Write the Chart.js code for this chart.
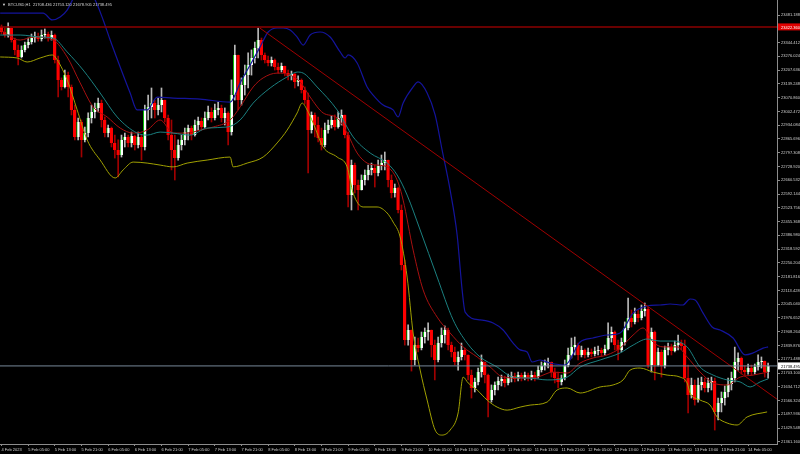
<!DOCTYPE html>
<html>
<head>
<meta charset="utf-8">
<script src="https://cdn.jsdelivr.net/npm/chart.js@4.4.0/dist/chart.umd.min.js"></script>
<style>
  html, body { margin: 0; padding: 0; background: #000; }
  canvas { display: block; }
</style>
</head>
<body>
<canvas id="chart" width="800" height="454"></canvas>
<script>
// BTCUSD H1, bar 0 = 4 Feb 2023 21:00. Each bar opens at the previous close.
const firstOpen = 23422;
const closes = [
  23397,23382,23417,23357,23308,23273,23308,23332,23347,23367,
  23377,23362,23382,23387,23367,23382,23258,23159,23124,23183,
  23124,23010,22876,22950,22861,22895,22970,23000,23020,23044,
  22960,22895,22920,22846,22811,22786,22861,22876,22846,22880,
  22836,22876,22826,23010,23025,23044,23010,23034,23059,22970,
  22885,22811,22771,22836,22861,22900,22920,22885,22935,22955,
  22925,22970,23000,22970,23010,23020,22970,22995,22900,23084,
  23283,23059,23134,23183,23233,23268,23318,23357,23283,23258,
  23243,23258,23223,23208,23228,23193,23179,23188,23149,23159,
  23109,23059,22910,22985,22935,22871,22836,22910,22935,22960,
  22925,22970,22985,22885,22587,22736,22637,22612,22662,22687,
  22712,22721,22697,22731,22746,22761,22662,22597,22622,22513,
  22240,21867,21917,21768,21842,21827,21882,21907,21917,21842,
  21768,21852,21892,21917,21842,21808,21758,21783,21818,21793,
  21693,21629,21659,21708,21758,21693,21569,21619,21644,21664,
  21673,21654,21678,21688,21673,21693,21678,21693,21678,21693,
  21683,21718,21738,21753,21758,21708,21678,21659,21678,21743,
  21793,21832,21842,21793,21818,21793,21808,21798,21813,21818,
  21803,21823,21877,21907,21842,21818,21857,21927,21976,21957,
  21996,21976,22011,22021,21743,21907,21743,21808,21738,21818,
  21832,21813,21842,21852,21837,21678,21594,21644,21569,21644,
  21659,21629,21654,21664,21510,21554,21579,21609,21649,21678,
  21758,21778,21718,21708,21728,21708,21733,21758,21763,21708,21738
];
const highs = [
  23432,23417,23442,23417,23367,23332,23328,23347,23367,23387,
  23397,23392,23407,23412,23397,23402,23387,23278,23169,23208,
  23198,23134,23034,22970,22960,22925,22995,23034,23044,23069,
  23059,22975,22935,22925,22885,22861,22885,22895,22885,22900,
  22885,22900,22885,23034,23084,23119,23059,23069,23119,23059,
  22985,22960,22885,22861,22885,22920,22935,22930,22960,22975,
  22970,23000,23029,23020,23039,23049,23034,23020,23000,23159,
  23332,23283,23169,23233,23293,23308,23347,23417,23367,23293,
  23278,23273,23263,23243,23243,23228,23208,23203,23193,23179,
  23164,23124,23094,23000,22995,22975,22920,22945,22960,22980,
  22985,23000,23010,22985,22900,22761,22746,22662,22687,22712,
  22736,22746,22736,22761,22786,22801,22761,22687,22642,22627,
  22538,22265,21942,21917,21882,21877,21907,21927,21952,21917,
  21867,21882,21927,21937,21927,21857,21832,21808,21852,21827,
  21793,21718,21678,21728,21793,21758,21698,21644,21659,21683,
  21693,21688,21698,21708,21703,21708,21703,21708,21703,21713,
  21708,21738,21758,21768,21778,21758,21728,21708,21693,21768,
  21827,21877,21882,21852,21837,21823,21827,21823,21832,21837,
  21827,21842,21952,21932,21912,21867,21877,21957,22076,22016,
  22026,22016,22041,22051,22031,21927,21912,21827,21818,21837,
  21852,21847,21862,21892,21867,21867,21743,21678,21669,21678,
  21683,21678,21678,21683,21678,21579,21609,21639,21678,21708,
  21832,21803,21783,21738,21748,21743,21748,21793,21783,21763,21753
];
const lows = [
  23387,23372,23372,23347,23283,23233,23268,23298,23318,23337,
  23347,23352,23352,23367,23352,23357,23243,23074,23109,23119,
  23074,22985,22861,22861,22776,22851,22876,22945,22970,23000,
  22925,22876,22876,22826,22771,22677,22776,22826,22826,22826,
  22811,22821,22761,22811,22960,22970,22970,22985,23000,22950,
  22861,22712,22662,22761,22811,22836,22861,22861,22880,22910,
  22910,22920,22960,22950,22960,22985,22950,22935,22836,22885,
  23059,23010,23034,23084,23119,23183,23243,23268,23258,23243,
  23228,23228,23208,23193,23198,23179,23159,23159,23119,23129,
  23094,23039,22697,22895,22876,22851,22811,22826,22895,22920,
  22910,22920,22935,22871,22528,22513,22597,22513,22612,22637,
  22662,22687,22627,22682,22712,22712,22627,22573,22577,22498,
  22215,21842,21842,21713,21743,21808,21818,21852,21867,21783,
  21669,21758,21832,21852,21818,21783,21743,21718,21768,21768,
  21669,21579,21609,21644,21683,21654,21485,21559,21594,21619,
  21639,21634,21644,21659,21659,21664,21664,21669,21664,21669,
  21664,21678,21708,21718,21728,21683,21654,21629,21644,21669,
  21733,21778,21793,21768,21783,21778,21783,21783,21788,21793,
  21788,21793,21818,21857,21818,21768,21808,21842,21917,21932,
  21947,21957,21967,21986,21728,21708,21669,21738,21683,21728,
  21793,21793,21808,21818,21818,21659,21505,21579,21544,21559,
  21619,21609,21609,21619,21420,21470,21510,21544,21584,21619,
  21659,21718,21698,21693,21698,21693,21698,21718,21728,21683,21678
];

// x axis labels, one every 8 bars
const labelBars = [0,8,16,24,32,40,48,56,64,72,80,88,96,104,112,120,128,136,144,152,160,168,176,184,192,200,208,216,224];
const timeLabels = ["4 Feb 2023","5 Feb 05:00","5 Feb 13:00","5 Feb 21:00","6 Feb 05:00","6 Feb 13:00","6 Feb 21:00",
  "7 Feb 05:00","7 Feb 13:00","7 Feb 21:00","8 Feb 05:00","8 Feb 13:00","8 Feb 21:00","9 Feb 05:00","9 Feb 13:00",
  "9 Feb 21:00","10 Feb 05:00","10 Feb 13:00","10 Feb 21:00","11 Feb 05:00","11 Feb 13:00","11 Feb 21:00",
  "12 Feb 05:00","12 Feb 13:00","12 Feb 21:00","13 Feb 05:00","13 Feb 13:00","13 Feb 21:00","14 Feb 05:00"];
const priceTicks = [21361.160,21429.548,21497.936,21566.324,21634.712,21703.100,21771.488,21839.876,
  21908.264,21976.652,22045.040,22113.428,22181.816,22250.204,22318.592,22386.980,22455.368,22523.756,
  22592.144,22660.532,22728.920,22797.308,22865.696,22934.084,23002.472,23070.860,23139.248,23207.636,
  23276.024,23344.412,23412.800,23481.188];

// indicators, [bar, price]
const upperBand = [[-0.4,23491],[5.6,23491],[12.5,23491],[15.2,23457],[17.6,23472],[19.7,23506],[22.1,23580],
  [25.1,23631],[28.1,23556],[30.5,23457],[32.6,23357],[35.6,23223],[38.6,23094],[40.7,23010],[43.7,23010],
  [46.7,23074],[51.5,23069],[59.6,23064],[68.6,23049],[71.6,23144],[74.6,23233],[77.6,23323],[80,23397],
  [82.7,23417],[84.5,23417],[86.6,23407],[88.7,23372],[90.5,23332],[92.6,23382],[95.6,23397],[98.6,23372],
  [101.6,23298],[103.1,23268],[104,23283],[106.7,23243],[109.7,23124],[111.5,23084],[114.5,23034],
  [117.5,23010],[119,22975],[120.5,23044],[123.5,23124],[125,23149],[127.7,23094],[130.1,22985],
  [132.2,22811],[134.6,22612],[136.7,22389],[138.2,22116],[139.1,22006],[143.6,21967],[147.5,21952],
  [150.5,21917],[153.5,21852],[155.6,21818],[157.7,21808],[159.2,21758],[161.6,21768],[164.6,21753],
  [169.1,21743],[173.6,21857],[177.5,21877],[181.7,21892],[185.6,21902],[189.5,22001],[193.7,22036],
  [197.6,22041],[200.6,22046],[204.4,22041],[206.6,22071],[208.1,22066],[210.5,22001],[213.2,21932],
  [215.6,21917],[219.5,21877],[223.1,21793],[225.5,21803],[228.5,21827],[230,21833]];
const middleBand = [[-0.4,23382],[5.6,23382],[11.6,23372],[15.5,23367],[19.7,23298],[24.5,23208],[29.6,23094],
  [34.7,22975],[40.7,22895],[43.7,22885],[47.6,22900],[51.5,22895],[56.6,22885],[61.7,22920],[67.7,22925],
  [71.6,22960],[75.5,23044],[80.6,23119],[85.7,23174],[88.7,23198],[90.5,23193],[94.7,23124],[100.7,23010],
  [105.5,22876],[110.6,22796],[115.7,22746],[118.7,22687],[121.7,22587],[125.6,22414],[130.7,22180],
  [135.5,21967],[139.7,21852],[143.6,21783],[148.7,21733],[153.5,21683],[158.6,21678],[163.7,21669],
  [169.7,21683],[173.6,21733],[179.6,21768],[185.6,21803],[189.5,21842],[193.7,21872],[197.6,21862],
  [201.5,21862],[205.7,21833],[209.6,21733],[213.5,21693],[217.7,21669],[221.6,21659],[224.6,21634],
  [227.6,21659],[230,21674]];
const fastMa = [[-0.4,23407],[5.6,23357],[9.5,23372],[15.5,23357],[19.7,23273],[23.6,23144],[27.5,23025],
  [31.7,22975],[35.6,22920],[39.5,22895],[43.7,22910],[47.6,22960],[51.5,22895],[55.7,22895],[59.6,22910],
  [63.5,22925],[68.6,22960],[71.6,23025],[75.5,23124],[78.5,23169],[82.7,23193],[86.6,23183],[89.6,23149],
  [92.6,23074],[96.5,22995],[100.7,22970],[103.7,22895],[106.7,22796],[109.7,22746],[112.7,22736],
  [115.7,22727],[118.7,22662],[120.5,22562],[123.5,22314],[126.5,22116],[130.7,21981],[134.6,21902],
  [138.5,21833],[142.7,21783],[146.6,21733],[150.5,21683],[155.6,21678],[160.7,21683],[165.5,21708],
  [169.7,21703],[173.6,21753],[177.5,21778],[181.7,21793],[185.6,21827],[189.5,21892],[192.5,21927],
  [195.5,21857],[198.5,21833],[202.7,21833],[205.7,21783],[209.6,21708],[213.5,21654],[217.7,21644],
  [221.6,21683],[225.5,21693],[230,21708]];
const lowerBand = [[-0.4,23273],[4.7,23268],[7.7,23248],[11.6,23268],[15.2,23283],[16.1,23273],[19.7,23159],
  [22.7,23010],[25.7,22861],[29.6,22761],[34.1,22672],[36.5,22712],[39.5,22751],[43.7,22746],[47.6,22736],
  [51.5,22727],[55.7,22746],[61.7,22761],[68.6,22776],[69.5,22727],[73.7,22746],[78.5,22776],[82.7,22846],
  [85.7,22910],[88.7,22995],[90.2,23044],[91.7,23010],[93.5,22945],[96.5,22826],[100.7,22776],[103.7,22727],
  [105.5,22597],[108.5,22528],[112.7,22528],[115.7,22498],[117.5,22453],[119.6,22379],[121.7,22180],
  [123.5,21902],[125.6,21718],[127.7,21569],[130.1,21420],[132.2,21395],[134.6,21420],[137,21505],
  [138.5,21683],[140,21654],[142.7,21619],[145.7,21569],[148.7,21534],[151.7,21519],[155.6,21534],
  [158.6,21544],[163.7,21559],[166.7,21619],[169.7,21629],[173.6,21604],[179.6,21634],[183.5,21644],
  [186.5,21669],[188.6,21718],[191.6,21728],[195.5,21708],[199.7,21693],[203.6,21683],[205.7,21654],
  [206.6,21604],[209.6,21569],[212.6,21544],[214.7,21485],[217.7,21455],[220.7,21445],[223.7,21485],
  [229.7,21510]];
const trendLine = [[77.5,23417],[232.7,21573]];
const highLevel = 23422.360;
const bidLevel = 21738.495;
const titleText = "BTCUSD,H1  21708.436 21753.120 21678.905 21738.495";

const xMin = -0.45, xMax = 232.67;
const yMin = 21350.7, yMax = 23556;
const FONT = '"Liberation Sans", Arial, sans-serif';

const opens = closes.map((c, i) => i === 0 ? firstOpen : closes[i - 1]);
const isBull = closes.map((c, i) => c >= opens[i]);
const bodies = closes.map((c, i) => ({ x: i, y: [opens[i], c] }));
const wicks = closes.map((c, i) => ({ x: i, y: [Math.min(lows[i], opens[i], c), Math.max(highs[i], opens[i], c)] }));
const pts = arr => arr.map(p => ({ x: p[0], y: p[1] }));
const flat = v => [{ x: xMin, y: v }, { x: xMax, y: v }];

const lineDs = (data, color, width) => ({
  type: 'line', data, borderColor: color, borderWidth: width, pointRadius: 0,
  cubicInterpolationMode: 'monotone', order: 0
});

const overlay = {
  id: 'overlay',
  afterDraw(chart) {
    const ctx = chart.ctx, ys = chart.scales.y, area = chart.chartArea;
    ctx.save();
    ctx.font = '4px ' + FONT;
    ctx.textBaseline = 'middle';
    ctx.fillStyle = '#d8d8d8';
    ctx.fillText('\u25BC', 2, 5);
    ctx.fillText(titleText, 8, 5);

    const box = (val, bg, fg) => {
      const py = ys.getPixelForValue(val);
      ctx.fillStyle = bg;
      ctx.fillRect(area.right + 1, py - 3.5, 800 - area.right - 1, 7);
      ctx.fillStyle = fg;
      ctx.fillText(val.toFixed(3), area.right + 4, py + 0.5);
    };
    box(highLevel, '#e00000', '#ffffff');
    box(bidLevel, '#ffffff', '#000000');
    ctx.restore();
  }
};

new Chart(document.getElementById('chart'), {
  type: 'bar',
  data: {
    datasets: [
      lineDs(flat(highLevel), '#8b0000', 1.5),
      lineDs(flat(bidLevel), '#778899', 1),
      lineDs(pts(trendLine), '#a00000', 1),
      lineDs(pts(upperBand), '#14149c', 1.2),
      lineDs(pts(middleBand), '#1b8080', 1),
      lineDs(pts(fastMa), '#a81010', 1),
      lineDs(pts(lowerBand), '#a0a000', 1),
      {
        data: bodies, grouped: false, order: 1, barThickness: 3, minBarLength: 1,
        backgroundColor: isBull.map(b => b ? '#ffffff' : '#ff0000'),
        borderColor: isBull.map(b => b ? '#00c000' : '#ff0000'),
        borderWidth: { left: 1, right: 0, top: 0, bottom: 0 }, borderSkipped: false
      },
      {
        data: wicks, grouped: false, order: 2, barThickness: 1,
        backgroundColor: isBull.map(b => b ? '#b8b8b8' : '#a00000')
      }
    ]
  },
  options: {
    responsive: false, animation: false, devicePixelRatio: 1,
    layout: { padding: 0 },
    plugins: { legend: { display: false }, tooltip: { enabled: false } },
    scales: {
      x: {
        type: 'linear', min: xMin, max: xMax, offset: false, bounds: 'data', position: 'bottom',
        grid: { display: true, offset: false, drawOnChartArea: false, drawTicks: true, tickLength: 2, color: '#8c8c8c' },
        border: { color: '#8c8c8c' },
        afterBuildTicks: s => { s.ticks = labelBars.map(v => ({ value: v })); },
        afterFit: s => { s.height = 10; s.paddingLeft = 0; s.paddingRight = 0; },
        ticks: {
          autoSkip: false, maxRotation: 0, minRotation: 0, align: 'start', padding: 1,
          color: '#d0d0d0', font: { size: 4, family: FONT },
          callback: (v, i) => timeLabels[i]
        }
      },
      y: {
        type: 'linear', min: yMin, max: yMax, bounds: 'data', position: 'right',
        grid: { display: true, drawOnChartArea: false, drawTicks: true, tickLength: 3, color: '#8c8c8c' },
        border: { color: '#8c8c8c' },
        afterBuildTicks: s => { s.ticks = priceTicks.map(v => ({ value: v })); },
        afterFit: s => { s.width = 23; s.paddingTop = 0; s.paddingBottom = 0; },
        ticks: {
          padding: 1, crossAlign: 'near', color: '#d0d0d0', font: { size: 4, family: FONT },
          callback: v => v.toFixed(3)
        }
      }
    }
  },
  plugins: [overlay]
});
</script>
</body>
</html>
